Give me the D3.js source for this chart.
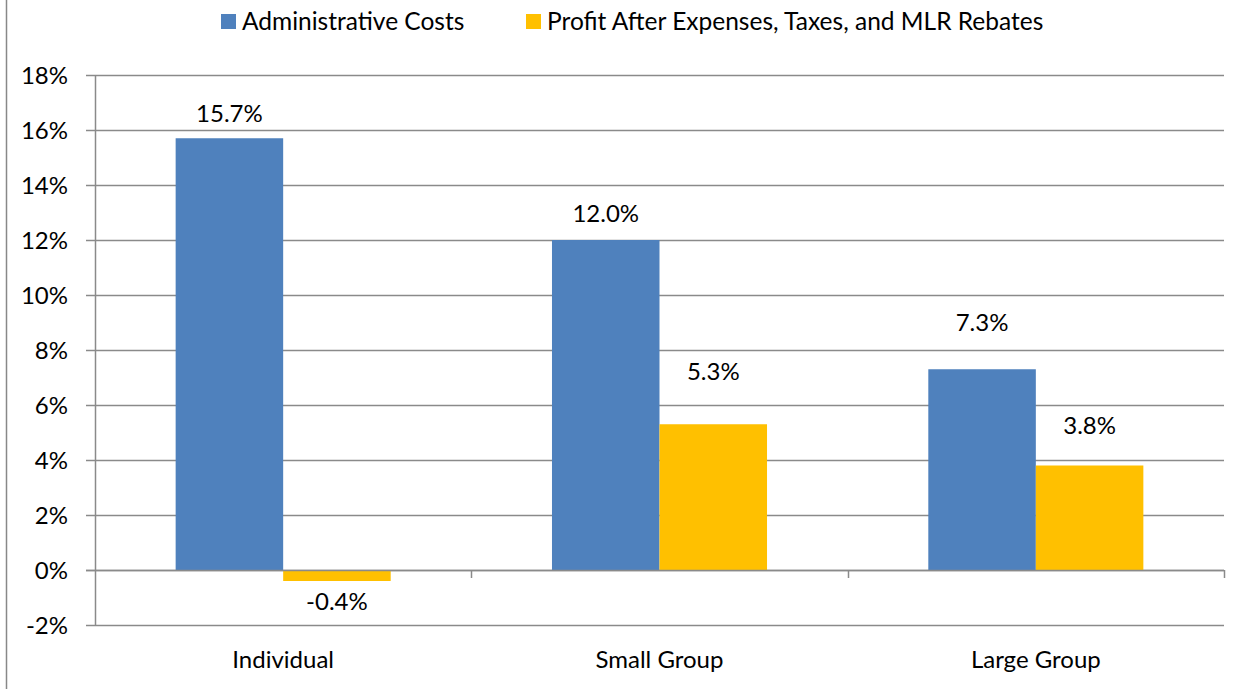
<!DOCTYPE html>
<html>
<head>
<meta charset="utf-8">
<script src="https://cdn.jsdelivr.net/npm/d3@7/dist/d3.min.js"></script>
<style>
  html, body { margin: 0; padding: 0; background: #fff; }
  svg { display: block; }
  text { font-family: Lato, "Open Sans", sans-serif; fill: #000; }
</style>
</head>
<body>
<svg id="chart" width="1252" height="689"></svg>
<script>
// Cost and profit shares by market segment (percent of premium)
const categories = ["Individual", "Small Group", "Large Group"];
const seriesNames = ["Administrative Costs", "Profit After Expenses, Taxes, and MLR Rebates"];
const adminCosts = [15.7, 12.0, 7.3];
const profit = [-0.4, 5.3, 3.8];
const yTicks = [-2, 0, 2, 4, 6, 8, 10, 12, 14, 16, 18];
const colors = ["#4F81BD", "#FFC000"];

// Vertical gap between each value label and its bar end, per series/category
const labelGap = [[25, 27, 47], [20, 53, 40]];

const W = 1252, H = 689;
const margin = { left: 95, right: 28, top: 75, bottom: 64 };
const fontSize = 24;
const svg = d3.select("#chart");

// Outer frame
svg.append("rect")
  .attr("x", 6.5).attr("y", -10)
  .attr("width", W + 20).attr("height", H + 20)
  .attr("fill", "none").attr("stroke", "#888").attr("stroke-width", 1.5);

const x0 = d3.scaleBand()
  .domain(categories)
  .range([margin.left, W - margin.right])
  .paddingInner(0).paddingOuter(0);

// Excel-style gap width 150%: two bars occupy 2/3.5 of each band
const barW = x0.bandwidth() / 3.5;

const y = d3.scaleLinear()
  .domain([-2, 18])
  .range([H - margin.bottom, margin.top]);

const grid = "#8a8a8a";
const gridW = 1.5;

// Horizontal gridlines with small left tick
svg.append("g").selectAll("line")
  .data(yTicks)
  .join("line")
  .attr("x1", margin.left - 9)
  .attr("x2", W - margin.right)
  .attr("y1", d => Math.round(y(d)) + 0.5)
  .attr("y2", d => Math.round(y(d)) + 0.5)
  .attr("stroke", grid).attr("stroke-width", gridW);

// Y axis line
svg.append("line")
  .attr("x1", margin.left + 0.5).attr("x2", margin.left + 0.5)
  .attr("y1", y(18)).attr("y2", y(-2))
  .attr("stroke", grid).attr("stroke-width", gridW);

// Y tick labels
svg.append("g").selectAll("text")
  .data(yTicks)
  .join("text")
  .attr("x", 68)
  .attr("y", d => y(d))
  .attr("dy", "0.36em")
  .attr("text-anchor", "end")
  .attr("font-size", fontSize)
  .text(d => d + "%");

// Category boundary ticks below the zero line
svg.append("g").selectAll("line")
  .data(categories)
  .join("line")
  .attr("x1", d => Math.round(x0(d) + x0.bandwidth()) + 0.5)
  .attr("x2", d => Math.round(x0(d) + x0.bandwidth()) + 0.5)
  .attr("y1", y(0)).attr("y2", y(0) + 8)
  .attr("stroke", grid).attr("stroke-width", gridW);

// Bars and value labels
const series = [adminCosts, profit];
series.forEach((vals, si) => {
  svg.append("g").selectAll("rect")
    .data(vals)
    .join("rect")
    .attr("x", (d, i) => x0(categories[i]) + x0.bandwidth() / 2 - barW + si * barW)
    .attr("width", barW)
    .attr("y", d => y(Math.max(0, d)))
    .attr("height", d => Math.abs(y(d) - y(0)))
    .attr("fill", colors[si]);

  svg.append("g").selectAll("text")
    .data(vals)
    .join("text")
    .attr("x", (d, i) => x0(categories[i]) + x0.bandwidth() / 2 - barW / 2 + si * barW)
    .attr("y", (d, i) => d >= 0 ? y(d) - labelGap[si][i] : y(d) + labelGap[si][i])
    .attr("dy", "0.36em")
    .attr("text-anchor", "middle")
    .attr("font-size", fontSize)
    .text(d => d.toFixed(1) + "%");
});

// Zero line drawn over the bars
svg.append("line")
  .attr("x1", margin.left - 9).attr("x2", W - margin.right)
  .attr("y1", Math.round(y(0)) + 0.5).attr("y2", Math.round(y(0)) + 0.5)
  .attr("stroke", grid).attr("stroke-width", gridW);

// Category labels
svg.append("g").selectAll("text")
  .data(categories)
  .join("text")
  .attr("x", d => x0(d) + x0.bandwidth() / 2)
  .attr("y", 659)
  .attr("dy", "0.36em")
  .attr("text-anchor", "middle")
  .attr("font-size", fontSize)
  .text(d => d);

// Legend
const legendX = [221, 526];
seriesNames.forEach((name, i) => {
  const g = svg.append("g").attr("transform", `translate(${legendX[i]},0)`);
  g.append("rect").attr("x", 0).attr("y", 14).attr("width", 15).attr("height", 15).attr("fill", colors[i]);
  g.append("text").attr("x", 21).attr("y", 21).attr("dy", "0.36em")
    .attr("font-size", 24.5).text(name);
});
</script>
</body>
</html>
